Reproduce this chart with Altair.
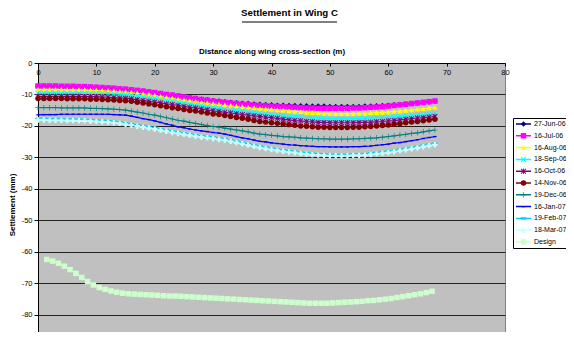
import altair as alt
import pandas as pd

FONT = "Liberation Sans"

series_names = ["27-Jun-06", "16-Jul-06", "16-Aug-06", "18-Sep-06", "16-Oct-06",
                "14-Nov-06", "19-Dec-06", "16-Jan-07", "19-Feb-07", "18-Mar-07", "Design"]
series_colors = ["#000080", "#FF00FF", "#FFFF00", "#00FFFF", "#800080",
                 "#800000", "#008080", "#0000FF", "#00CCFF", "#CCFFFF", "#CCFFCC"]
# line legend keys: same names with a trailing space so that the line legend
# and the marker legend stay two separate (overlaid) legends
line_names = [n + " " for n in series_names]

X_PATH = "M-1,-0.75L-0.75,-1L0,-0.25L0.75,-1L1,-0.75L0.25,0L1,0.75L0.75,1L0,0.25L-0.75,1L-1,0.75L-0.25,0Z"
STAR_PATH = X_PATH + "M-0.15,-1H0.15V1H-0.15Z"
PLUS_PATH = "M-1,-0.12H-0.12V-1H0.12V-0.12H1V0.12H0.12V1H-0.12V0.12H-1Z"
DASH_S = "M-0.6,-0.25H0.6V0.25H-0.6Z"
DASH_L = "M-1,-0.4H1V0.4H-1Z"
series_shapes = ["diamond", "square", "triangle-up", X_PATH, STAR_PATH,
                 "circle", PLUS_PATH, DASH_S, DASH_L, "cross", "square"]

# distance along wing cross-section (m)
x_obs = list(range(0, 69))
x_design = [i + 0.5 for i in range(1, 68)]

s_27jun06 = [-7.5, -7.5, -7.5, -7.5, -7.5, -7.6, -7.6, -7.6, -7.7, -7.7,
             -7.8, -7.9, -8.0, -8.1, -8.3, -8.4, -8.6, -8.8, -9.0, -9.2,
             -9.5, -9.7, -10.0, -10.2, -10.5, -10.8, -11.0, -11.2, -11.5, -11.7,
             -11.9, -12.1, -12.3, -12.5, -12.6, -12.8, -12.9, -13.0, -13.1, -13.2,
             -13.3, -13.4, -13.4, -13.5, -13.5, -13.6, -13.6, -13.7, -13.7, -13.7,
             -13.8, -13.8, -13.8, -13.8, -13.8, -13.8, -13.7, -13.7, -13.6, -13.5,
             -13.4, -13.3, -13.2, -13.0, -12.9, -12.7, -12.6, -12.4, -12.2]
s_16jul06 = [-7.3, -7.3, -7.3, -7.3, -7.4, -7.4, -7.4, -7.5, -7.5, -7.6,
             -7.7, -7.8, -7.9, -8.0, -8.2, -8.3, -8.5, -8.7, -8.9, -9.2,
             -9.4, -9.7, -10.0, -10.2, -10.5, -10.8, -11.1, -11.3, -11.6, -11.8,
             -12.1, -12.3, -12.5, -12.7, -12.9, -13.1, -13.2, -13.4, -13.5, -13.6,
             -13.7, -13.8, -13.9, -14.0, -14.1, -14.2, -14.3, -14.3, -14.4, -14.4,
             -14.4, -14.4, -14.4, -14.4, -14.3, -14.3, -14.2, -14.1, -14.0, -13.9,
             -13.7, -13.5, -13.3, -13.1, -12.9, -12.7, -12.5, -12.3, -12.1]
s_16aug06 = [-8.4, -8.4, -8.4, -8.4, -8.4, -8.5, -8.5, -8.5, -8.5, -8.6,
             -8.6, -8.7, -8.8, -8.9, -9.0, -9.1, -9.3, -9.5, -9.8, -10.0,
             -10.3, -10.6, -10.9, -11.2, -11.5, -11.7, -12.0, -12.2, -12.5, -12.7,
             -12.9, -13.1, -13.3, -13.5, -13.7, -13.9, -14.1, -14.2, -14.4, -14.6,
             -14.7, -14.9, -15.0, -15.2, -15.4, -15.5, -15.7, -15.8, -15.9, -16.0,
             -16.0, -16.1, -16.1, -16.1, -16.1, -16.0, -16.0, -15.9, -15.8, -15.7,
             -15.6, -15.4, -15.3, -15.1, -14.9, -14.7, -14.5, -14.3, -14.1]
s_18sep06 = [-9.6, -9.6, -9.6, -9.6, -9.6, -9.6, -9.6, -9.6, -9.6, -9.6,
             -9.6, -9.7, -9.7, -9.8, -9.9, -10.0, -10.2, -10.4, -10.7, -10.9,
             -11.2, -11.5, -11.8, -12.1, -12.4, -12.7, -13.0, -13.3, -13.6, -13.9,
             -14.2, -14.4, -14.7, -14.9, -15.1, -15.3, -15.5, -15.8, -16.0, -16.2,
             -16.4, -16.6, -16.7, -16.9, -17.0, -17.2, -17.3, -17.5, -17.6, -17.6,
             -17.7, -17.7, -17.7, -17.7, -17.7, -17.6, -17.6, -17.5, -17.4, -17.3,
             -17.2, -17.1, -17.0, -16.8, -16.7, -16.5, -16.4, -16.2, -16.0]
s_16oct06 = [-10.6, -10.6, -10.6, -10.6, -10.6, -10.6, -10.6, -10.6, -10.7, -10.7,
             -10.7, -10.8, -10.9, -11.0, -11.1, -11.2, -11.4, -11.7, -11.9, -12.2,
             -12.4, -12.7, -13.0, -13.2, -13.5, -13.8, -14.1, -14.3, -14.6, -14.9,
             -15.2, -15.4, -15.7, -15.9, -16.1, -16.4, -16.6, -16.8, -17.0, -17.2,
             -17.4, -17.6, -17.9, -18.1, -18.3, -18.4, -18.6, -18.7, -18.9, -18.9,
             -19.0, -19.0, -19.0, -19.0, -19.0, -18.9, -18.9, -18.8, -18.7, -18.6,
             -18.4, -18.3, -18.1, -17.9, -17.7, -17.5, -17.4, -17.2, -17.0]
s_14nov06 = [-11.3, -11.3, -11.3, -11.3, -11.3, -11.4, -11.4, -11.4, -11.4, -11.5,
             -11.5, -11.6, -11.7, -11.8, -11.9, -12.0, -12.2, -12.5, -12.7, -13.0,
             -13.3, -13.6, -13.9, -14.2, -14.5, -14.8, -15.1, -15.3, -15.6, -15.9,
             -16.2, -16.4, -16.7, -17.0, -17.3, -17.6, -17.9, -18.3, -18.6, -18.8,
             -19.0, -19.2, -19.4, -19.6, -19.8, -20.0, -20.1, -20.3, -20.4, -20.4,
             -20.5, -20.5, -20.5, -20.5, -20.4, -20.4, -20.3, -20.2, -20.0, -19.9,
             -19.7, -19.5, -19.3, -19.0, -18.8, -18.6, -18.4, -18.1, -17.9]
s_19dec06 = [-14.2, -14.2, -14.2, -14.2, -14.3, -14.3, -14.3, -14.3, -14.3, -14.4,
             -14.4, -14.5, -14.6, -14.7, -14.8, -15.0, -15.3, -15.6, -15.9, -16.3,
             -16.6, -17.0, -17.4, -17.8, -18.2, -18.5, -18.9, -19.2, -19.6, -19.9,
             -20.2, -20.4, -20.7, -21.0, -21.3, -21.6, -21.9, -22.3, -22.6, -22.8,
             -23.0, -23.2, -23.4, -23.5, -23.6, -23.8, -23.9, -24.0, -24.1, -24.1,
             -24.2, -24.2, -24.2, -24.2, -24.1, -24.1, -24.0, -23.9, -23.8, -23.6,
             -23.4, -23.2, -22.9, -22.7, -22.4, -22.2, -21.9, -21.6, -21.3]
s_16jan07 = [-16.5, -16.4, -16.4, -16.4, -16.3, -16.3, -16.3, -16.3, -16.3, -16.3,
             -16.3, -16.3, -16.3, -16.4, -16.5, -16.6, -16.9, -17.3, -17.7, -18.0,
             -18.4, -18.9, -19.4, -19.8, -20.3, -20.6, -21.0, -21.3, -21.6, -21.8,
             -22.1, -22.3, -22.6, -23.0, -23.4, -23.8, -24.1, -24.5, -24.9, -25.1,
             -25.4, -25.6, -25.8, -26.0, -26.1, -26.3, -26.4, -26.5, -26.6, -26.6,
             -26.7, -26.7, -26.7, -26.7, -26.6, -26.6, -26.5, -26.4, -26.2, -26.0,
             -25.8, -25.5, -25.3, -25.0, -24.7, -24.4, -24.0, -23.7, -23.4]
s_19feb07 = [-17.7, -17.7, -17.8, -17.8, -17.8, -17.9, -17.9, -18.0, -18.0, -18.1,
             -18.2, -18.3, -18.4, -18.6, -18.8, -19.1, -19.4, -19.7, -20.0, -20.3,
             -20.6, -21.0, -21.3, -21.7, -22.0, -22.3, -22.6, -22.9, -23.2, -23.4,
             -23.6, -23.9, -24.1, -24.5, -24.9, -25.3, -25.7, -26.1, -26.5, -26.8,
             -27.1, -27.4, -27.7, -27.9, -28.1, -28.4, -28.6, -28.8, -28.9, -29.0,
             -29.1, -29.1, -29.1, -29.1, -29.0, -29.0, -28.9, -28.7, -28.5, -28.3,
             -28.1, -27.8, -27.5, -27.2, -26.9, -26.6, -26.2, -25.9, -25.6]
s_18mar07 = [-18.1, -18.1, -18.2, -18.2, -18.2, -18.3, -18.3, -18.4, -18.4, -18.5,
             -18.6, -18.7, -18.8, -19.0, -19.2, -19.5, -19.8, -20.1, -20.4, -20.7,
             -21.0, -21.4, -21.7, -22.1, -22.4, -22.7, -23.0, -23.3, -23.6, -23.8,
             -24.0, -24.3, -24.5, -24.9, -25.3, -25.7, -26.1, -26.5, -26.9, -27.2,
             -27.5, -27.8, -28.1, -28.3, -28.5, -28.8, -29.0, -29.2, -29.3, -29.4,
             -29.5, -29.5, -29.5, -29.5, -29.4, -29.4, -29.3, -29.1, -28.9, -28.7,
             -28.5, -28.2, -27.9, -27.6, -27.3, -27.0, -26.6, -26.3, -26.0]
s_design = [-62.5, -63.0, -63.7, -64.6, -65.7, -66.9, -68.2, -69.5, -70.6, -71.4,
            -72.0, -72.5, -72.9, -73.2, -73.4, -73.5, -73.6, -73.7, -73.8, -73.9,
            -74.0, -74.1, -74.1, -74.2, -74.3, -74.4, -74.5, -74.6, -74.7, -74.8,
            -74.9, -75.0, -75.1, -75.2, -75.3, -75.4, -75.5, -75.6, -75.7, -75.8,
            -75.9, -76.0, -76.1, -76.2, -76.3, -76.4, -76.4, -76.4, -76.4, -76.3,
            -76.2, -76.1, -76.0, -75.9, -75.8, -75.6, -75.5, -75.3, -75.1, -74.9,
            -74.6, -74.3, -74.0, -73.7, -73.4, -73.0, -72.6]

x_ticks = [0, 10, 20, 30, 40, 50, 60, 70, 80]
y_ticks = [0, -10, -20, -30, -40, -50, -60, -70, -80, -90]

obs_values = [s_27jun06, s_16jul06, s_16aug06, s_18sep06, s_16oct06, s_14nov06,
              s_19dec06, s_16jan07, s_19feb07, s_18mar07]

rows = []
for order, (name, lname, vals) in enumerate(zip(series_names[:-1], line_names[:-1], obs_values)):
    for xv, yv in zip(x_obs, vals):
        rows.append({"x": xv, "v": yv, "series": name, "line_series": lname, "o": order})
for xv, yv in zip(x_design, s_design):
    rows.append({"x": xv, "v": yv, "series": "Design", "line_series": line_names[-1], "o": 10})
df = pd.DataFrame(rows)

W, H = 467, 283

xenc = alt.X("x:Q", scale=alt.Scale(domain=[0, 80], nice=False),
             axis=alt.Axis(orient="bottom", offset=-H, values=x_ticks, grid=False,
                           title="Distance along wing cross-section (m)",
                           titleY=-10, titleBaseline="alphabetic", titleFontSize=8,
                           titleFontWeight="bold", titleColor="black",
                           labelFontSize=7.5, labelColor="black", labelPadding=2,
                           tickSize=3, tickColor="black", domainColor="black",
                           labelFlush=False, labelOverlap=False))
yenc = alt.Y("v:Q", scale=alt.Scale(domain=[-90, 0], nice=False),
             axis=alt.Axis(values=y_ticks, title="Settlement (mm)", titleFontSize=8,
                           titleFontWeight="bold", titleColor="black", titlePadding=5,
                           labelFontSize=7.5, labelColor="black", labelPadding=2,
                           labelExpr="'' + datum.value",
                           tickSize=4, tickColor="black", domainColor="black",
                           grid=True, gridColor="#222222", gridWidth=1,
                           labelFlush=False, labelOverlap=False))

common_legend = dict(orient="none", legendX=475, legendY=55, title=None,
                     labelFontSize=7, labelFont=FONT, padding=2, rowPadding=3.8,
                     clipHeight=8)

lines = alt.Chart(df).mark_line(strokeWidth=1.2).encode(
    x=xenc, y=yenc,
    stroke=alt.Stroke("line_series:N",
                      scale=alt.Scale(domain=line_names, range=series_colors),
                      legend=alt.Legend(symbolType="stroke", symbolSize=225,
                                        symbolStrokeWidth=1.5, fillColor="white",
                                        strokeColor="black", labelColor="black",
                                        labelOffset=2, zindex=1, **common_legend)),
    order="x:Q",
)

marker_legend = alt.Legend(symbolSize=30, symbolOffset=5, labelExpr="''",
                           symbolStrokeWidth=0, zindex=2, **common_legend)
points = alt.Chart(df).mark_point(filled=True, size=30, opacity=1).encode(
    x=xenc, y=yenc,
    color=alt.Color("series:N",
                    scale=alt.Scale(domain=series_names, range=series_colors),
                    legend=marker_legend),
    shape=alt.Shape("series:N",
                    scale=alt.Scale(domain=series_names, range=series_shapes),
                    legend=marker_legend),
    order="o:Q",
)

underline = alt.Chart(pd.DataFrame({"u": [0]})).mark_rule(color="black", strokeWidth=1).encode(
    x=alt.value(204), x2=alt.value(299), y=alt.value(-41))

chart = alt.layer(lines, points, underline).properties(
    width=W, height=H,
    title=alt.Title("Settlement in Wing C", fontSize=9.7, fontWeight="bold", font=FONT,
                    color="black", anchor="middle", dx=18),
    autosize=alt.AutoSizeParams(type="none"),
    padding={"left": 30, "top": 55, "right": 61, "bottom": -14},
).configure(font=FONT).configure_view(
    fill="#C0C0C0", stroke="#808080", strokeWidth=1
).configure_axis(labelFont=FONT, titleFont=FONT)

chart.save("out.html", embed_options={"renderer": "svg", "actions": False})
